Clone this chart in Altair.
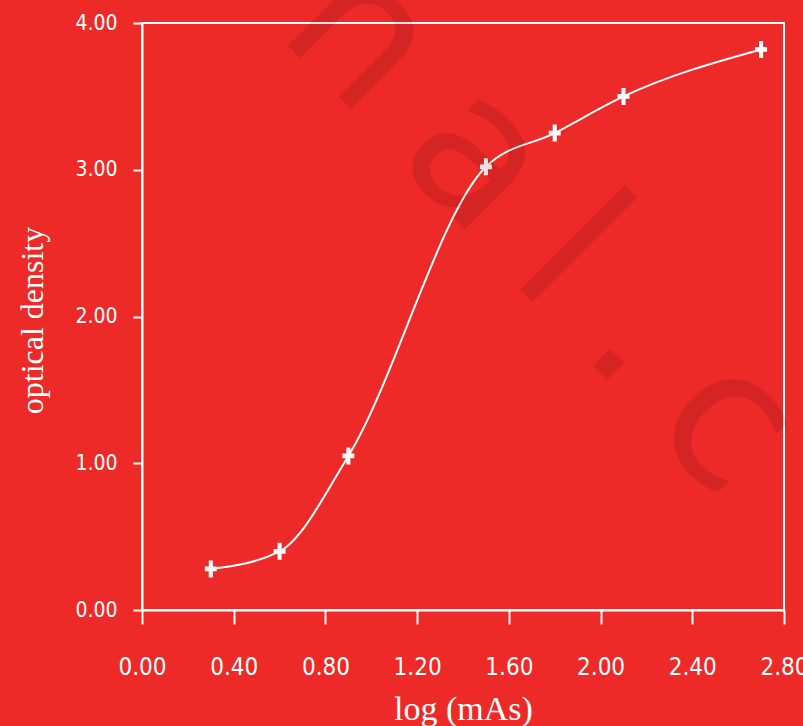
import altair as alt
import pandas as pd

# data
log_mas = [0.30, 0.60, 0.90, 1.50, 1.80, 2.10, 2.70]
optical_density = [0.28, 0.40, 1.05, 3.02, 3.25, 3.50, 3.82]

x_ticks = [0.0, 0.4, 0.8, 1.2, 1.6, 2.0, 2.4, 2.8]
y_ticks = [0.0, 1.0, 2.0, 3.0, 4.0]

# watermark letters (placed in data units)
wm_letters = ["n", "a", "l", ".", "c"]
wm_x = [0.772, 1.278, 1.675, 1.997, 2.37]
wm_y = [3.632, 2.794, 2.140, 1.615, 0.981]

df = pd.DataFrame({"x": log_mas, "y": optical_density})
wm = pd.DataFrame({"x": wm_x, "y": wm_y, "t": wm_letters})

RED = "#EE2A29"
LABEL_FONT = "Liberation Sans Narrow, DejaVu Sans Condensed, sans-serif"
TITLE_FONT = "Liberation Serif, DejaVu Serif, serif"

xs = alt.Scale(domain=[0, 2.8], nice=False, zero=True)
ys = alt.Scale(domain=[0, 4], nice=False, zero=True)

x_axis = alt.Axis(
    title="log (mAs)", values=x_ticks, format=".2f", grid=False,
    domainColor="white", domainWidth=2, tickColor="white", tickWidth=2, tickSize=14,
    labelColor="white", labelFont=LABEL_FONT, labelFontSize=24,
    labelBaseline="alphabetic", labelPadding=50, labelFlush=False, labelOverlap=False,
    titleColor="white", titleFont=TITLE_FONT, titleFontSize=34, titleFontWeight="normal",
    titleBaseline="alphabetic", titleY=109, titleX=321, titleAnchor="middle",
)
y_axis = alt.Axis(
    title="optical density", values=y_ticks, format=".2f", grid=False,
    domainColor="white", domainWidth=2, tickColor="white", tickWidth=2, tickSize=9,
    labelColor="white", labelFont=LABEL_FONT, labelFontSize=21,
    labelPadding=16, labelFlush=False, labelOverlap=False,
    titleColor="white", titleFont=TITLE_FONT, titleFontSize=32, titleFontWeight="normal",
    titleBaseline="alphabetic", titleAngle=270, titleX=-100, titleY=297, titleAlign="center",
)

base = alt.Chart(df)

curve = base.mark_line(color="white", strokeWidth=2, interpolate="monotone").encode(
    x=alt.X("x:Q", scale=xs, axis=x_axis),
    y=alt.Y("y:Q", scale=ys, axis=y_axis),
)

plus_path = "M-0.7,-0.28H0.7V0.28H-0.7Z M-0.24,-1H0.24V1H-0.24Z"
points = base.mark_point(shape=plus_path, filled=True, fill="white", opacity=1,
                         strokeWidth=0, size=289).encode(
    x=alt.X("x:Q", scale=xs),
    y=alt.Y("y:Q", scale=ys),
)

watermark = alt.Chart(wm).mark_text(
    font="DejaVu Sans, sans-serif", fontSize=195, angle=45, align="center",
    baseline="alphabetic", color="black", opacity=0.1,
).encode(
    x=alt.X("x:Q", scale=xs),
    y=alt.Y("y:Q", scale=ys),
    text="t:N",
)

chart = alt.layer(curve, points, watermark).properties(
    width=642, height=587,
    autosize=alt.AutoSizeParams(type="none"),
    padding={"left": 142, "top": 23, "right": 19, "bottom": 116},
    background=RED,
).configure_view(stroke="white", strokeWidth=2, fill=None)

chart.save("out.html", embed_options={"renderer": "svg", "actions": False})
